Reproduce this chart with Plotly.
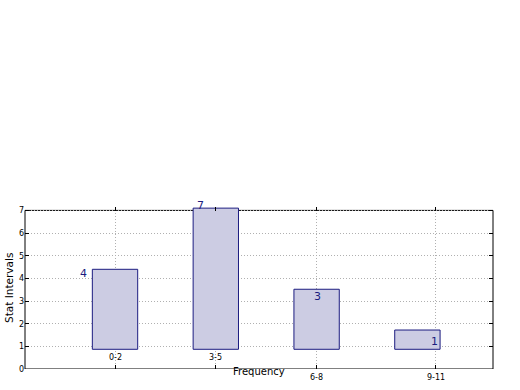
import plotly.graph_objects as go

# ---- data ----
categories = ["0-2", "3-5", "6-8", "9-11"]
counts = [4, 7, 3, 1]
bar_tops = [4.4, 7.1, 3.52, 1.72]
bar_base = 0.87
tick_positions = [0, 1, 2, 3.18]
y_ticks = [0, 1, 2, 3, 4, 5, 6, 7]

x_pos = list(range(len(categories)))
heights = [t - bar_base for t in bar_tops]

NAVY = "#1c1c80"
FILL = "#ccccE3"
FONT = "DejaVu Sans"
GRID = "#b0b0b0"

fig = go.Figure()
fig.add_trace(go.Bar(
    x=x_pos, y=heights, base=bar_base, width=0.45,
    marker=dict(color=FILL, line=dict(color=NAVY, width=1)),
    cliponaxis=False, hoverinfo="skip",
))

annotations = []
# value labels (offset to the left/up like the reference)
for i, c in enumerate(counts):
    annotations.append(dict(
        x=-0.31 + 1.16 * i, y=c, xref="x", yref="y", yshift=4.5,
        xanchor="center", yanchor="middle",
        text=str(c), showarrow=False,
        font=dict(family=FONT, size=11, color=NAVY),
    ))
# category tick labels: first two inside axes, last two below
for i, (cat, tp) in enumerate(zip(categories, tick_positions)):
    annotations.append(dict(
        x=tp, y=0, xref="x", yref="paper", text=cat, showarrow=False,
        xanchor="center", yanchor="middle",
        yshift=11.6 if i < 2 else -8.4,
        font=dict(family=FONT, size=8, color="black"),
    ))
# axis titles
annotations.append(dict(
    x=0.5, y=0, xref="paper", yref="paper", text="Frequency", showarrow=False,
    xanchor="center", yanchor="middle",
    yshift=-2, font=dict(family=FONT, size=10, color="black"),
))
annotations.append(dict(
    x=0, y=0.5, xref="paper", yref="paper", text="Stat Intervals", showarrow=False,
    xanchor="center", yanchor="middle",
    textangle=-90, xshift=-16, font=dict(family=FONT, size=10.5, color="black"),
))

# y range extended slightly so the tallest bar pokes above the frame (as in the reference)
Y_TOP = 7.15
fig.add_shape(type="rect", xref="paper", yref="y", x0=0, x1=1, y0=0, y1=7,
              line=dict(color="black", width=1), fillcolor="rgba(0,0,0,0)", layer="below")

fig.update_layout(
    width=520, height=390,
    margin=dict(l=25, r=27, t=207, b=21),
    paper_bgcolor="white", plot_bgcolor="white",
    showlegend=False,
    annotations=annotations,
    font=dict(family=FONT, size=8, color="black"),
    xaxis=dict(
        range=[-0.893, 3.75], tickvals=tick_positions, ticktext=[""] * 4,
        showgrid=True, gridcolor=GRID, griddash="1px,2px", gridwidth=1,
        showline=False, mirror="allticks",
        ticks="inside", ticklen=4, tickcolor="black",
        zeroline=False, fixedrange=True, automargin=False,
    ),
    yaxis=dict(
        range=[0, Y_TOP], tickvals=y_ticks,
        showgrid=True, gridcolor=GRID, griddash="1px,2px", gridwidth=1,
        showline=False, mirror="allticks",
        ticks="inside", ticklen=4, tickcolor="black",
        tickfont=dict(family=FONT, size=8, color="black"),
        zeroline=False, fixedrange=True, automargin=False,
    ),
)

# remove the default 8px page margin so the figure fills the window
fig.write_html(
    "out.html",
    config={"displayModeBar": False},
    post_script="document.body.style.margin='0';document.body.style.overflow='hidden';",
)
